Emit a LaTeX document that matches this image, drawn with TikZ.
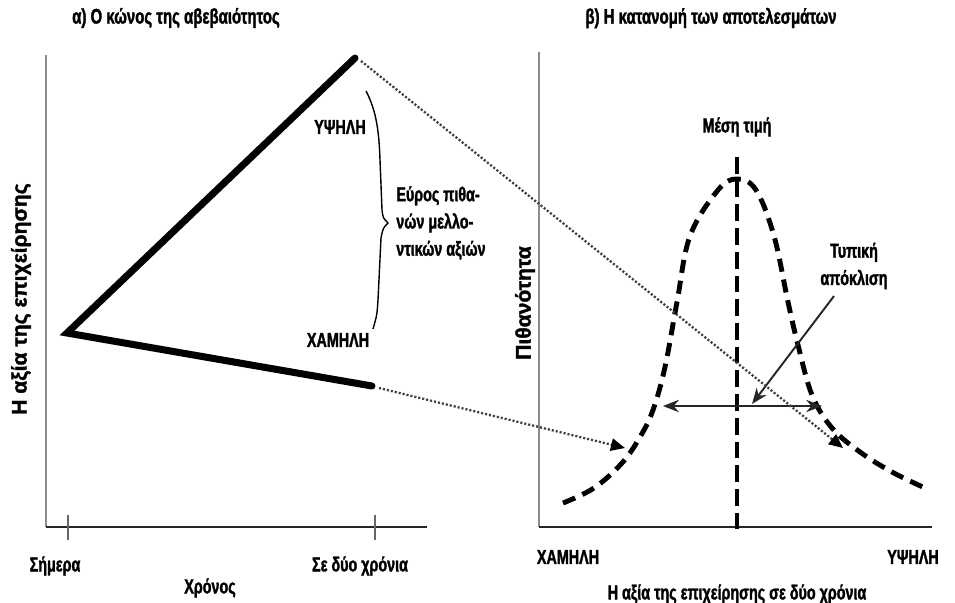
\documentclass[tikz,border=0pt]{standalone}
\usepackage{fontspec}
\newfontfamily\narrowbold{Liberation Sans Bold}[FakeStretch=0.71, FakeBold=1.5]
\newfontfamily\widebold{Liberation Sans Bold}[FakeBold=1.5]
\usetikzlibrary{arrows.meta}
\begin{document}
\begin{tikzpicture}[x=0.02cm,y=-0.02cm,
  lbl/.style={font=\narrowbold\fontsize{11.5}{15.5}\selectfont, inner sep=0pt},
  ttl/.style={font=\narrowbold\fontsize{12}{14}\selectfont, inner sep=0pt},
  vlbl/.style={font=\widebold\fontsize{12}{14}\selectfont, inner sep=0pt, rotate=90},
  axisline/.style={line width=1.1pt, black!85},
  vaxis/.style={line width=0.8pt, black!45},
  tickline/.style={line width=0.6pt, black!60},
  cone/.style={line width=4pt, line cap=round, line join=miter},
  dotline/.style={line width=1.3pt, black!75, dash pattern=on 1.2pt off 1.1pt,
    -{Triangle[length=8pt,width=7pt,black]}},
  bell/.style={line width=2.8pt, dash pattern=on 7.5pt off 4.5pt, line cap=butt},
  meanline/.style={line width=2.3pt, dash pattern=on 9.5pt off 4pt},
  thinarrow/.style={line width=1.1pt, black!85}
]
\useasboundingbox (0,0) rectangle (955,602);
\fill[white] (0,0) rectangle (955,602);

% ---------- left panel: the cone of uncertainty ----------
\node[ttl] (titleA) at (176,18) {α) Ο κώνος της αβεβαιότητος};

\coordinate (lyTop) at (46,55);
\coordinate (lOrig) at (46,527);
\coordinate (lxEnd) at (427,527);
\draw[vaxis] (lyTop) -- (lOrig);
\draw[axisline] (lOrig) -- (lxEnd);
\coordinate (t1a) at (68,515); \coordinate (t1b) at (68,540);
\coordinate (t2a) at (375,515); \coordinate (t2b) at (375,540);
\draw[tickline] (t1a) -- (t1b);
\draw[tickline] (t2a) -- (t2b);

\node[vlbl] (yA) at (21,299) {Η αξία της επιχείρησης};
\node[lbl] (today) at (55,566) {Σήμερα};
\node[lbl] (twoyrs) at (360,566) {Σε δύο χρόνια};
\node[lbl] (time) at (210,588) {Χρόνος};

\coordinate (apex) at (67,333);
\coordinate (hiEnd) at (355,58);
\coordinate (loEnd) at (372,386);
\draw[cone] (hiEnd) -- (apex) -- (loEnd);

\node[lbl] (hiA) at (340,127) {ΥΨΗΛΗ};
\node[lbl] (loA) at (338,340) {ΧΑΜΗΛΗ};

% curly brace spanning the range
\coordinate (brTop) at (366,91);
\coordinate (brTip) at (388,223);
\coordinate (brBot) at (373,329);
\draw[line width=0.8pt] (brTop) .. controls (376,110) and (379,130) .. (380,160)
  -- (382,210) .. controls (383,218) .. (brTip)
  .. controls (383,228) .. (381,238) -- (378,300) .. controls (377,315) .. (brBot);

\node[lbl, align=left, anchor=west] (range) at (396,223)
  {Εύρος πιθα-\\νών μελλο-\\ντικών αξιών};

% ---------- right panel: distribution of outcomes ----------
\node[ttl] (titleB) at (711,18) {β) Η κατανομή των αποτελεσμάτων};

\coordinate (ryTop) at (539,52);
\coordinate (rOrig) at (539,527);
\coordinate (rxEnd) at (932,527);
\draw[vaxis] (ryTop) -- (rOrig);
\draw[axisline] (rOrig) -- (rxEnd);

\node[vlbl] (prob) at (525,303) {Πιθανότητα};
\node[lbl] (loB) at (568,557) {ΧΑΜΗΛΗ};
\node[lbl] (hiB) at (913,557) {ΥΨΗΛΗ};
\node[lbl] (xB) at (737,594) {Η αξία της επιχείρησης σε δύο χρόνια};

% bell curve
\draw[bell] plot[smooth, tension=0.6] coordinates {
  (563,503) (594,488) (622,463) (640,437) (653,410) (665,367) (677,302)
  (690,236) (718,190) (737,179) (756,190) (774,236)
  (788,302) (798,345) (812,395) (832,428) (860,452) (892,472) (925,488)};

% mean value
\coordinate (meanTop) at (737,157);
\coordinate (meanBot) at (737,531);
\draw[meanline] (meanTop) -- (meanBot);
\node[lbl] (mean) at (737,127) {Μέση τιμή};

% standard deviation
\coordinate (sdL) at (663,406);
\coordinate (sdR) at (822,406);
\draw[thinarrow, {Stealth[length=9pt,width=7pt]}-{Stealth[length=9pt,width=7pt]}] (sdL) -- (sdR);
\node[lbl, align=center] (sd) at (854,266) {Τυπική\\απόκλιση};
\coordinate (sdFrom) at (834,296);
\coordinate (sdTo) at (752,404);
\draw[thinarrow, -{Stealth[length=9pt,width=7pt]}] (sdFrom) -- (sdTo);

% projections from the cone onto the distribution
\coordinate (hiTip) at (843,448);
\coordinate (loTip) at (625,448);
\coordinate (hiStart) at (361,61);
\coordinate (loStart) at (379,388);
\draw[dotline] (hiStart) -- (hiTip);
\draw[dotline] (loStart) -- (loTip);
\end{tikzpicture}
\end{document}
